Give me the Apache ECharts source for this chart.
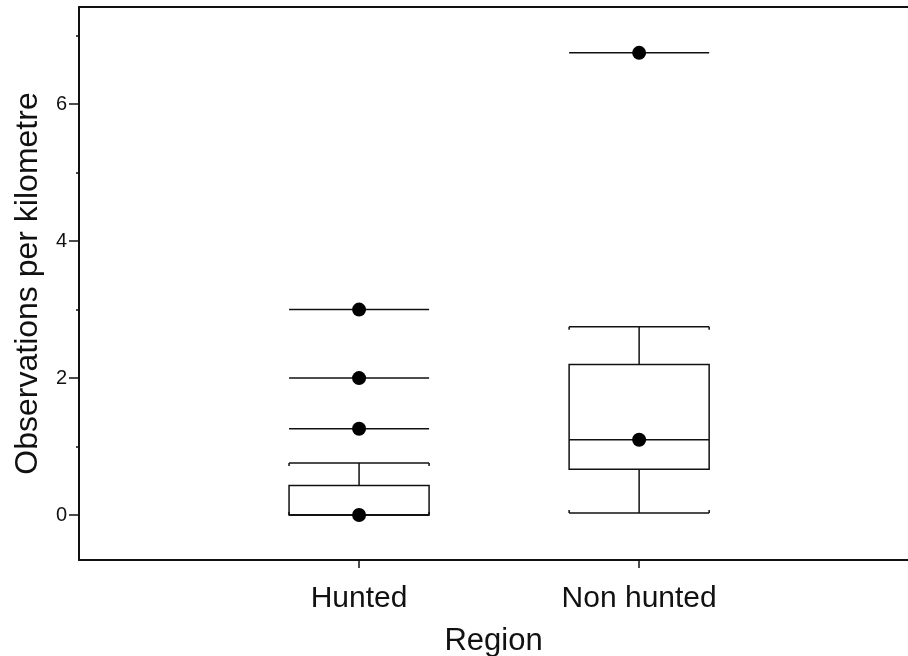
<!DOCTYPE html>
<html>
<head>
<meta charset="utf-8">
<script src="https://cdn.jsdelivr.net/npm/echarts@6/dist/echarts.min.js"></script>
<style>
  html, body { margin: 0; padding: 0; background: #fff; }
  #chart { width: 908px; height: 656px; }
</style>
</head>
<body>
<div id="chart"></div>
<script>
// region positions on the x axis and their labels
const regions = ['Hunted', 'Non hunted']
const regionX = [1, 2]

// box summaries: [x, lower whisker, Q1, median, Q3, upper whisker]
const boxes = [
  [1, 0, 0, 0, 0.43, 0.76],
  [2, 0.03, 0.67, 1.1, 2.2, 2.75]
]

// outliers drawn as a dot with a horizontal bar
const outlierLines = [
  [1, 1.26],
  [1, 2.0],
  [1, 3.0],
  [2, 6.75]
]

// filled dots
const dots = [
  [1, 0],
  [1, 1.26],
  [1, 2.0],
  [1, 3.0],
  [2, 1.1],
  [2, 6.75]
]

const majorTicks = [0, 2, 4, 6]
const minorTicks = [1, 3, 5, 7]

const halfW = 0.25
const font = 'Liberation Sans, Arial, Helvetica, sans-serif'
const ink = '#111'

const chart = echarts.init(document.getElementById('chart'))

const option = {
  animation: false,
  grid: { left: 79, right: 0, top: 7, bottom: 96, outerBoundsMode: 'none', containLabel: false },
  xAxis: [
    {
      type: 'value',
      min: 0,
      max: 2.96,
      name: 'Region',
      nameLocation: 'middle',
      nameGap: 66,
      nameTextStyle: { fontFamily: font, fontSize: 31, color: ink },
      axisLine: { show: true, onZero: false, lineStyle: { color: ink, width: 2 } },
      axisTick: { show: true, customValues: regionX, length: 8, lineStyle: { color: ink, width: 1.5 } },
      axisLabel: {
        customValues: regionX,
        margin: 24,
        fontFamily: font,
        fontSize: 30,
        color: ink,
        formatter: v => regions[regionX.indexOf(v)] || ''
      },
      splitLine: { show: false }
    },
    {
      type: 'value',
      position: 'top',
      min: 0,
      max: 2.96,
      axisLine: { show: true, onZero: false, lineStyle: { color: ink, width: 2 } },
      axisTick: { show: false },
      axisLabel: { show: false },
      splitLine: { show: false }
    }
  ],
  yAxis: [
    {
      type: 'value',
      min: -0.657,
      max: 7.42,
      name: 'Observations per kilometre',
      nameLocation: 'middle',
      nameGap: 35,
      nameTextStyle: { fontFamily: font, fontSize: 32, color: ink },
      axisLine: { show: true, onZero: false, lineStyle: { color: ink, width: 2 } },
      axisTick: { show: true, customValues: majorTicks, length: 10, lineStyle: { color: ink, width: 1.5 } },
      axisLabel: { customValues: majorTicks, margin: 12, fontFamily: font, fontSize: 20, color: ink },
      splitLine: { show: false }
    },
    {
      type: 'value',
      position: 'left',
      min: -0.657,
      max: 7.42,
      axisLine: { show: false },
      axisTick: { show: true, customValues: minorTicks, length: 3, lineStyle: { color: ink, width: 1.5 } },
      axisLabel: { show: false },
      splitLine: { show: false }
    }
  ],
  series: [
    {
      type: 'custom',
      xAxisIndex: 0,
      yAxisIndex: 0,
      data: boxes,
      renderItem: (params, api) => {
        const x = api.value(0)
        const lo = api.coord([x, api.value(1)])
        const q1 = api.coord([x, api.value(2)])
        const med = api.coord([x, api.value(3)])
        const q3 = api.coord([x, api.value(4)])
        const hi = api.coord([x, api.value(5)])
        const left = api.coord([x - halfW, 0])[0]
        const right = api.coord([x + halfW, 0])[0]
        const cx = lo[0]
        const style = { stroke: ink, lineWidth: 1.5, fill: null }
        const ln = (x1, y1, x2, y2) => ({ type: 'line', shape: { x1, y1, x2, y2 }, style })
        return {
          type: 'group',
          children: [
            { type: 'rect', shape: { x: left, y: q3[1], width: right - left, height: q1[1] - q3[1] }, style },
            ln(left, med[1], right, med[1]),
            ln(cx, q3[1], cx, hi[1]),
            ln(cx, q1[1], cx, lo[1]),
            ln(left, hi[1], right, hi[1]),
            ln(left, hi[1], left, hi[1] + 3),
            ln(right, hi[1], right, hi[1] + 3),
            ln(left, lo[1], right, lo[1]),
            ln(left, lo[1], left, lo[1] - 3),
            ln(right, lo[1], right, lo[1] - 3)
          ]
        }
      }
    },
    {
      type: 'custom',
      xAxisIndex: 0,
      yAxisIndex: 0,
      data: outlierLines,
      renderItem: (params, api) => {
        const x = api.value(0)
        const y = api.value(1)
        const a = api.coord([x - halfW, y])
        const b = api.coord([x + halfW, y])
        return {
          type: 'line',
          shape: { x1: a[0], y1: a[1], x2: b[0], y2: b[1] },
          style: { stroke: ink, lineWidth: 1.5 }
        }
      }
    },
    {
      type: 'scatter',
      xAxisIndex: 0,
      yAxisIndex: 0,
      data: dots,
      symbol: 'circle',
      symbolSize: 14,
      itemStyle: { color: '#000', opacity: 1 },
      z: 5
    }
  ]
}

chart.setOption(option)
</script>
</body>
</html>
